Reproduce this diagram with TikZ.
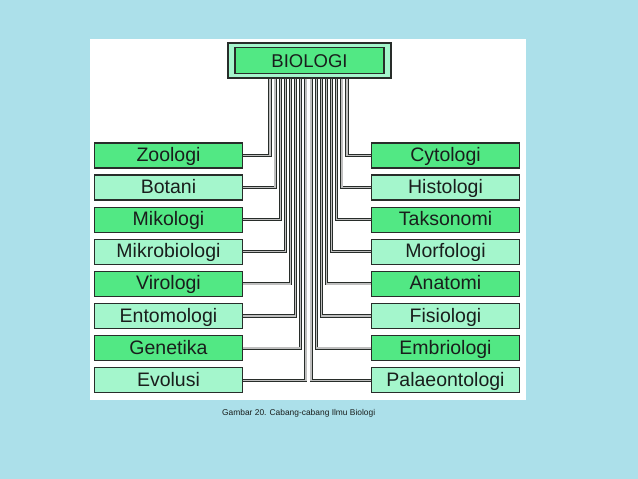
\documentclass[tikz,border=0pt]{standalone}
\usepackage{fontspec}
\setmainfont{Liberation Sans}
\definecolor{bgblue}{RGB}{172,224,234}
\definecolor{gdark}{RGB}{82,232,132}
\definecolor{glight}{RGB}{164,246,204}
\definecolor{edge}{RGB}{40,45,42}
\definecolor{txt}{RGB}{25,30,28}
\begin{document}
\begin{tikzpicture}[x=1pt,y=-1pt,
  branch/.style={draw=edge, line width=1.4pt, minimum width=148pt, minimum height=25pt,
     inner sep=0pt, text height=14pt, text depth=2pt, text=txt, font=\fontsize{19.5}{20}\selectfont},
  dk/.style={branch, fill=gdark},
  lt/.style={branch, fill=glight},
  conn/.style={draw=edge, line width=0.9pt, double=gray!50, double distance=1.3pt, line join=miter}]
\fill[bgblue] (0,0) rectangle (638,479);
\useasboundingbox (0,0) rectangle (638,479);
\fill[white] (90,39) rectangle (526,400);
% top node
\node[draw=edge, line width=1.4pt, fill=glight, minimum width=163pt, minimum height=35pt, inner sep=0pt] (bioout) at (309.5,60.5) {};
\node[draw=edge, line width=1.2pt, fill=gdark, minimum width=149pt, minimum height=26pt, inner sep=0pt,
  text height=13.3pt, text depth=0pt, text=txt, font=\fontsize{18.5}{19}\selectfont] (bio) at (309.5,60.5) {BIOLOGI};
% left nodes
\node[dk] (zoo) at (168.5,155.5) {Zoologi};
\node[lt] (bot) at (168.5,187.6) {Botani};
\node[dk] (mik) at (168.5,219.7) {Mikologi};
\node[lt] (mikro) at (168.5,251.8) {Mikrobiologi};
\node[dk] (vir) at (168.5,283.9) {Virologi};
\node[lt] (ento) at (168.5,316.0) {Entomologi};
\node[dk] (gen) at (168.5,348.1) {Genetika};
\node[lt] (evo) at (168.5,380.2) {Evolusi};
% right nodes
\node[dk] (cyt) at (445.5,155.5) {Cytologi};
\node[lt] (his) at (445.5,187.6) {Histologi};
\node[dk] (tak) at (445.5,219.7) {Taksonomi};
\node[lt] (mor) at (445.5,251.8) {Morfologi};
\node[dk] (ana) at (445.5,283.9) {Anatomi};
\node[lt] (fis) at (445.5,316.0) {Fisiologi};
\node[dk] (emb) at (445.5,348.1) {Embriologi};
\node[lt] (pal) at (445.5,380.2) {Palaeontologi};
% connector x positions
\foreach \i in {0,...,7} {
  \coordinate (L\i) at ({270+5.13*\i},0);
  \coordinate (R\i) at ({347-5.13*\i},0);
}
\draw[conn] (L0 |- bioout.south) |- (zoo.east);
\draw[conn] (L1 |- bioout.south) |- (bot.east);
\draw[conn] (L2 |- bioout.south) |- (mik.east);
\draw[conn] (L3 |- bioout.south) |- (mikro.east);
\draw[conn] (L4 |- bioout.south) |- (vir.east);
\draw[conn] (L5 |- bioout.south) |- (ento.east);
\draw[conn] (L6 |- bioout.south) |- (gen.east);
\draw[conn] (L7 |- bioout.south) |- (evo.east);
\draw[conn] (R0 |- bioout.south) |- (cyt.west);
\draw[conn] (R1 |- bioout.south) |- (his.west);
\draw[conn] (R2 |- bioout.south) |- (tak.west);
\draw[conn] (R3 |- bioout.south) |- (mor.west);
\draw[conn] (R4 |- bioout.south) |- (ana.west);
\draw[conn] (R5 |- bioout.south) |- (fis.west);
\draw[conn] (R6 |- bioout.south) |- (emb.west);
\draw[conn] (R7 |- bioout.south) |- (pal.west);
% caption
\node[anchor=west, inner sep=0pt, text=txt, font=\fontsize{8.4}{9}\selectfont] (cap) at (222,413) {Gambar 20. Cabang-cabang Ilmu Biologi};
\end{tikzpicture}
\end{document}
